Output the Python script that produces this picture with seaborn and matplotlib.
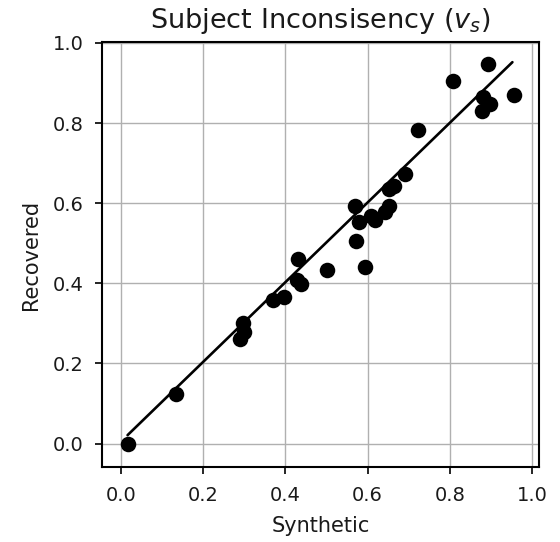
import numpy as np
import pandas as pd
import matplotlib
matplotlib.use("Agg")
import matplotlib.pyplot as plt
import seaborn as sns

synthetic = [0.016, 0.135, 0.289, 0.299, 0.296, 0.369, 0.396, 0.427, 0.437, 0.430,
             0.500, 0.593, 0.571, 0.569, 0.579, 0.607, 0.618, 0.642, 0.652, 0.651,
             0.663, 0.691, 0.723, 0.808, 0.879, 0.880, 0.898, 0.892, 0.955]
recovered = [0.000, 0.123, 0.262, 0.279, 0.300, 0.358, 0.366, 0.408, 0.398, 0.461,
             0.433, 0.440, 0.506, 0.592, 0.552, 0.569, 0.557, 0.578, 0.592, 0.636,
             0.644, 0.674, 0.782, 0.905, 0.830, 0.865, 0.847, 0.947, 0.869]
fit_x = [0.016, 0.952]
fit_y = [0.021, 0.952]
ticks = [0.0, 0.2, 0.4, 0.6, 0.8, 1.0]
tick_labels = ["0.0", "0.2", "0.4", "0.6", "0.8", "1.0"]

df = pd.DataFrame({"Synthetic": synthetic, "Recovered": recovered})
fit_df = pd.DataFrame({"Synthetic": fit_x, "Recovered": fit_y})

sns.set_style("white")
plt.rcParams["font.family"] = ["DejaVu Sans"]
txt = "#1a1a1a"
plt.rcParams["text.color"] = txt
plt.rcParams["axes.labelcolor"] = txt
plt.rcParams["xtick.color"] = "black"
plt.rcParams["ytick.color"] = "black"

fig = plt.figure(figsize=(5.6, 5.42), dpi=100)
ax = fig.add_axes([0.183, 0.138, 0.779, 0.785])

ax.grid(True, color="#b0b0b0", linewidth=1.0)
ax.set_axisbelow(True)
sns.scatterplot(data=df, x="Synthetic", y="Recovered", color="black", s=125,
                edgecolor="black", linewidth=0, ax=ax, zorder=3)
sns.lineplot(data=fit_df, x="Synthetic", y="Recovered", color="black",
             linewidth=1.9, ax=ax, zorder=4)

ax.set_xlim(-0.045, 1.016)
ax.set_ylim(-0.059, 1.003)
ax.set_xticks(ticks)
ax.set_xticklabels(tick_labels)
ax.set_yticks(ticks)
ax.set_yticklabels(tick_labels)
ax.tick_params(axis="both", which="major", labelsize=14, length=5, width=1.2,
               pad=8.5, direction="out", bottom=True, left=True, color="black",
               labelcolor=txt)
for sp in ax.spines.values():
    sp.set_color("black")
    sp.set_linewidth(1.5)
ax.set_xlabel("Synthetic", fontsize=15, color=txt, labelpad=8)
ax.set_ylabel("Recovered", fontsize=15, color=txt, labelpad=8.5)
ax.set_title(r"Subject Inconsisency ($v_s$)", fontsize=19.5, pad=10, color=txt)

fig.savefig("out.png", dpi=100)
